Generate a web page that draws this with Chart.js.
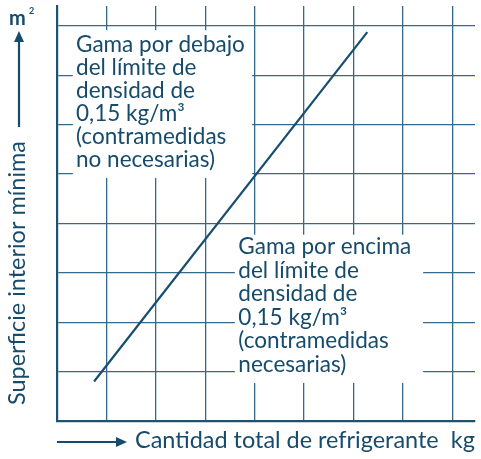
<!DOCTYPE html>
<html>
<head>
<meta charset="utf-8">
<script src="https://cdn.jsdelivr.net/npm/chart.js@4/dist/chart.umd.min.js"></script>
<style>
html,body{margin:0;padding:0;background:#fff;}
#wrap{width:481px;height:459px;}
</style>
</head>
<body>
<div id="wrap"><canvas id="c" width="481" height="459"></canvas></div>
<script>
// ---- data ----
const xTicks = [0, 1, 2, 3, 4, 5, 6, 7, 8];
const yTicks = [0, 1, 2, 3, 4, 5, 6, 7, 8];
const limitLineX = [0.75, 6.28];
const limitLineY = [0.80, 7.87];
const xTitle = "Cantidad total de refrigerante  kg";
const yTitle = "Superficie interior mínima";
const yUnit = "m";
const yUnitSup = "2";
const belowText = ["Gama por debajo", "del límite de", "densidad de", "0,15 kg/m³", "(contramedidas", "no necesarias)"];
const aboveText = ["Gama por encima", "del límite de", "densidad de", "0,15 kg/m³", "(contramedidas", "necesarias)"];

const INK = "#164b6c";
const AXIS = "#1d5270";
const GRID = "#33698a";
const FONT = "Lato, 'DejaVu Sans', sans-serif";

function fitFont(ctx, text, target, weight) {
  ctx.font = `${weight} 20px ${FONT}`;
  const w = ctx.measureText(text).width;
  return 20 * target / w;
}

const overlay = {
  id: 'overlay',
  beforeDatasetsDraw(chart, args, opts) {
    const ctx = chart.ctx, xs = chart.scales.x, ys = chart.scales.y;
    ctx.save();
    ctx.fillStyle = '#ffffff';
    opts.boxes.forEach(b => {
      const x1 = xs.getPixelForValue(b.x0), x2 = xs.getPixelForValue(b.x1);
      const y1 = ys.getPixelForValue(b.y0), y2 = ys.getPixelForValue(b.y1);
      ctx.fillRect(Math.min(x1, x2), Math.min(y1, y2), Math.abs(x2 - x1), Math.abs(y2 - y1));
    });
    ctx.restore();
  },
  afterDraw(chart, args, opts) {
    const ctx = chart.ctx, xs = chart.scales.x, ys = chart.scales.y, ca = chart.chartArea;
    ctx.save();
    ctx.fillStyle = INK;
    ctx.strokeStyle = INK;
    // box texts
    opts.boxes.forEach(b => {
      const size = fitFont(ctx, b.lines[0], b.width, 'normal');
      ctx.font = `normal ${size}px ${FONT}`;
      ctx.textAlign = 'left';
      ctx.textBaseline = 'alphabetic';
      const tx = xs.getPixelForValue(b.tx);
      let ty = ys.getPixelForValue(b.ty);
      b.lines.forEach((l, i) => ctx.fillText(l, tx, ty + i * b.lh));
    });
    // x title with arrow
    const xsz = fitFont(ctx, xTitle, 340, 'normal');
    ctx.font = `normal ${xsz}px ${FONT}`;
    ctx.textAlign = 'left';
    ctx.textBaseline = 'alphabetic';
    ctx.fillText(xTitle, 135, 448);
    ctx.lineWidth = 2.2;
    ctx.beginPath(); ctx.moveTo(ca.left, 442); ctx.lineTo(118, 442); ctx.stroke();
    ctx.beginPath(); ctx.moveTo(127, 442); ctx.lineTo(116, 437); ctx.lineTo(116, 447); ctx.closePath(); ctx.fill();
    // y title rotated
    ctx.save();
    ctx.translate(25, 405);
    ctx.rotate(-Math.PI / 2);
    ctx.fillText(yTitle, 0, 0);
    ctx.restore();
    ctx.beginPath(); ctx.moveTo(19, 127); ctx.lineTo(19, 40); ctx.stroke();
    ctx.beginPath(); ctx.moveTo(19, 31); ctx.lineTo(14, 42); ctx.lineTo(24, 42); ctx.closePath(); ctx.fill();
    // unit m²
    ctx.font = `bold 20px ${FONT}`;
    ctx.fillText(yUnit, 9, 25);
    ctx.font = `bold 9px ${FONT}`;
    ctx.fillText(yUnitSup, 29, 14);
    ctx.restore();
  }
};

const chart = new Chart(document.getElementById('c'), {
  type: 'scatter',
  data: {
    datasets: [{
      data: limitLineX.map((x, i) => ({ x, y: limitLineY[i] })),
      showLine: true,
      borderColor: "#174d6f",
      borderWidth: 2.2,
      pointRadius: 0,
      fill: false
    }]
  },
  options: {
    responsive: false,
    animation: false,
    devicePixelRatio: 1,
    layout: { padding: { left: 57, top: 6, right: 6, bottom: 38 } },
    plugins: {
      legend: { display: false },
      tooltip: { enabled: false },
      overlay: {
        boxes: [
          { x0: 0.32, x1: 3.95, y0: 7.91, y1: 4.92, tx: 0.385, ty: 7.476, lh: 23, width: 169, lines: belowText },
          { x0: 3.60, x1: 7.41, y0: 3.77, y1: 0.77, tx: 3.67, ty: 3.374, lh: 23.5, width: 173, lines: aboveText }
        ]
      }
    },
    scales: {
      x: {
        type: 'linear', min: 0, max: 8.46,
        afterBuildTicks: s => { s.ticks = xTicks.map(v => ({ value: v })); },
        afterFit: s => { s.height = 0; },
        ticks: { display: false },
        grid: { color: GRID, lineWidth: 1.3, drawTicks: false },
        border: { color: AXIS, width: 2.2 }
      },
      y: {
        type: 'linear', min: 0, max: 8.4,
        afterBuildTicks: s => { s.ticks = yTicks.map(v => ({ value: v })); },
        afterFit: s => { s.width = 0; },
        ticks: { display: false },
        grid: { color: GRID, lineWidth: 1.3, drawTicks: false },
        border: { color: AXIS, width: 2.2 }
      }
    }
  },
  plugins: [overlay]
});
</script>
</body>
</html>
